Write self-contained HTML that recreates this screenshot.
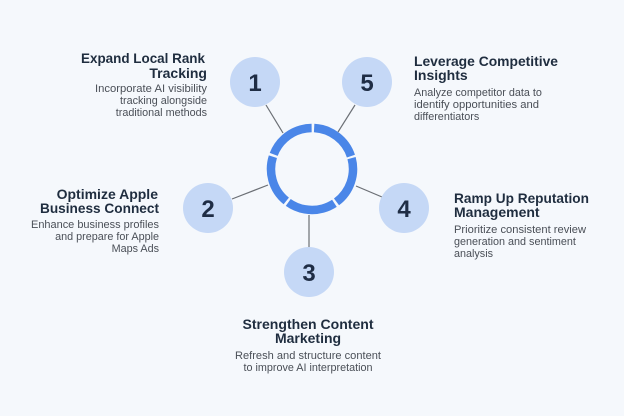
<!DOCTYPE html>
<html><head><meta charset="utf-8"><style>
html,body{margin:0;padding:0;background:#f5f8fc;}
svg{display:block;}
.t{font-family:"Liberation Sans",sans-serif;font-weight:bold;font-size:14px;fill:#1f2d3f;}
.d{font-family:"Liberation Sans",sans-serif;font-size:10.8px;fill:#4a4f57;}
.n{font-family:"Liberation Sans",sans-serif;font-weight:bold;font-size:24px;fill:#1f2d45;text-anchor:middle;}
</style></head><body>
<svg width="624" height="416" viewBox="0 0 624 416" xmlns="http://www.w3.org/2000/svg">
<rect width="624" height="416" fill="#f5f8fc"/>
<g stroke="#6b6f75" stroke-width="1.2">
<line x1="266" y1="105" x2="283" y2="133"/>
<line x1="355" y1="105" x2="338" y2="132"/>
<line x1="232" y1="199" x2="268" y2="185"/>
<line x1="356" y1="186" x2="382" y2="197"/>
<line x1="309" y1="215" x2="309" y2="248"/>
</g>
<circle cx="312" cy="169" r="41" fill="none" stroke="#4a86e8" stroke-width="8.5" stroke-dasharray="49 2.5" transform="rotate(-15.3 312 169)"/>
<g fill="#c5d8f6">
<circle cx="255" cy="82" r="25"/>
<circle cx="367" cy="82" r="25"/>
<circle cx="208" cy="208" r="25"/>
<circle cx="404" cy="208" r="25"/>
<circle cx="309" cy="272" r="25"/>
</g>
<text class="n" x="255" y="91">1</text>
<text class="n" x="367" y="91">5</text>
<text class="n" x="208" y="217">2</text>
<text class="n" x="404" y="217">4</text>
<text class="n" x="309" y="281">3</text>

<g text-anchor="end">
<text class="t" x="205" y="63" textLength="124" lengthAdjust="spacingAndGlyphs">Expand Local Rank</text>
<text class="t" x="207" y="78">Tracking</text>
<text class="d" x="207" y="92" textLength="112" lengthAdjust="spacingAndGlyphs">Incorporate AI visibility</text>
<text class="d" x="207" y="104">tracking alongside</text>
<text class="d" x="207" y="116">traditional methods</text>

<text class="t" x="158" y="199">Optimize Apple</text>
<text class="t" x="159" y="213" textLength="119" lengthAdjust="spacingAndGlyphs">Business Connect</text>
<text class="d" x="159" y="228" textLength="128" lengthAdjust="spacingAndGlyphs">Enhance business profiles</text>
<text class="d" x="159" y="240">and prepare for Apple</text>
<text class="d" x="159" y="252">Maps Ads</text>
</g>

<text class="t" x="414" y="66" textLength="144" lengthAdjust="spacingAndGlyphs">Leverage Competitive</text>
<text class="t" x="414" y="80">Insights</text>
<text class="d" x="414" y="96">Analyze competitor data to</text>
<text class="d" x="414" y="108" textLength="125" lengthAdjust="spacingAndGlyphs">identify opportunities and</text>
<text class="d" x="414" y="120">differentiators</text>

<text class="t" x="454" y="203" textLength="135" lengthAdjust="spacingAndGlyphs">Ramp Up Reputation</text>
<text class="t" x="454" y="217">Management</text>
<text class="d" x="454" y="233" textLength="132" lengthAdjust="spacingAndGlyphs">Prioritize consistent review</text>
<text class="d" x="454" y="245">generation and sentiment</text>
<text class="d" x="454" y="257">analysis</text>

<g text-anchor="middle">
<text class="t" x="308" y="329" textLength="131" lengthAdjust="spacingAndGlyphs">Strengthen Content</text>
<text class="t" x="308" y="343">Marketing</text>
<text class="d" x="308" y="359" textLength="146" lengthAdjust="spacingAndGlyphs">Refresh and structure content</text>
<text class="d" x="308" y="371">to improve AI interpretation</text>
</g>
</svg>
</body></html>
